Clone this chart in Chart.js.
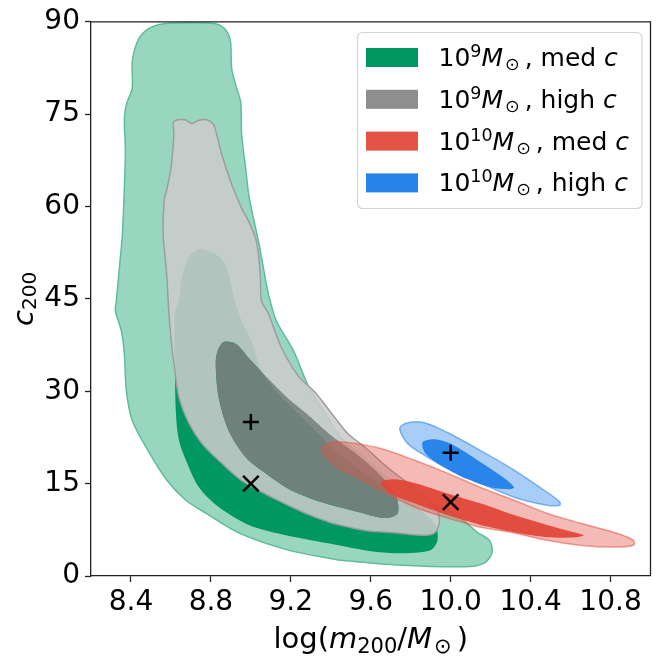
<!DOCTYPE html>
<html>
<head>
<meta charset="utf-8">
<script src="https://cdn.jsdelivr.net/npm/chart.js@4.4.1/dist/chart.umd.min.js"></script>
<style>
  html, body { margin: 0; padding: 0; background: #fff; }
  #wrap { width: 664px; height: 665px; }
</style>
</head>
<body>
<div id="wrap"><canvas id="c200-chart" width="664" height="665"></canvas></div>
<script>
// contour outlines, [log m200, c200]
var greenOuter = [[9.436,2.6],[9.188,4.2],[8.939,7.0],[8.775,10.2],[8.675,12.3],[8.581,15.5],[8.476,20.9],
  [8.406,25.3],[8.377,30.1],[8.367,36.1],[8.352,39.8],[8.322,43.1],[8.327,44.7],[8.342,50.0],[8.357,55.5],
  [8.367,63.0],[8.372,69.0],[8.367,74.3],[8.377,76.6],[8.406,79.2],[8.406,83.5],[8.425,86.2],[8.458,88.1],
  [8.524,89.4],[8.624,89.8],[8.823,89.7],[8.873,88.7],[8.898,86.8],[8.904,82.4],[8.929,79.2],[8.949,77.0],
  [8.954,71.7],[8.974,66.2],[8.989,62.0],[9.013,58.1],[9.038,54.4],[9.063,50.0],[9.088,45.8],[9.128,41.4],
  [9.213,36.6],[9.287,30.9],[9.372,26.4],[9.451,22.5],[9.521,20.4],[9.600,18.3],[9.700,15.5],[9.800,13.4],
  [9.899,11.8],[10.018,10.2],[10.133,7.1],[10.193,5.8],[10.208,3.9],[10.168,2.1],[10.069,1.5],[9.735,1.8]];
var greenInner = [[9.387,5.3],[9.153,6.8],[8.989,8.3],[8.839,11.2],[8.740,14.4],[8.675,18.8],[8.640,22.0],
  [8.625,26.4],[8.620,34.5],[8.620,42.6],[8.640,44.7],[8.649,47.4],[8.674,50.6],[8.705,52.4],[8.755,53.1],
  [8.814,52.4],[8.856,51.4],[8.889,49.0],[8.919,44.7],[8.954,41.4],[9.003,38.2],[9.053,33.3],[9.138,29.6],
  [9.237,26.4],[9.337,23.1],[9.436,19.9],[9.536,17.5],[9.635,15.2],[9.760,12.8],[9.859,10.4],[9.924,8.3],
  [9.934,5.8],[9.899,4.2],[9.735,3.7],[9.601,4.0]];
var grayOuter = [[9.402,8.6],[9.272,10.2],[9.103,12.8],[8.954,15.5],[8.854,18.3],[8.755,21.5],[8.690,24.8],
  [8.640,29.0],[8.615,34.5],[8.605,37.1],[8.590,42.6],[8.581,47.9],[8.576,50.0],[8.561,55.5],[8.566,60.9],
  [8.581,63.0],[8.600,66.2],[8.615,71.7],[8.615,73.8],[8.670,74.1],[8.705,73.5],[8.740,74.0],[8.780,74.1],
  [8.814,73.3],[8.829,71.7],[8.854,68.5],[8.904,63.6],[8.954,59.7],[8.989,57.6],[9.023,54.9],[9.038,52.3],
  [9.048,48.4],[9.053,44.7],[9.088,42.6],[9.153,37.1],[9.237,32.5],[9.322,29.8],[9.421,25.7],[9.486,23.1],
  [9.571,20.9],[9.685,17.6],[9.785,15.1],[9.869,12.8],[9.924,11.2],[9.944,9.1],[9.924,7.1],[9.869,6.6],
  [9.735,7.0],[9.571,7.4]];
var grayInner = [[9.371,11.8],[9.203,13.9],[9.073,16.7],[8.974,19.3],[8.889,23.6],[8.839,29.0],[8.824,34.5],
  [8.834,36.6],[8.864,38.0],[8.924,37.7],[8.989,35.4],[9.088,32.0],[9.188,28.8],[9.288,26.1],[9.402,22.8],
  [9.536,19.6],[9.660,16.0],[9.725,13.1],[9.735,10.2],[9.670,9.4],[9.536,10.4]];
var redOuter = [[10.148,7.9],[9.984,9.4],[9.819,11.2],[9.651,13.9],[9.536,16.0],[9.436,17.6],[9.371,19.6],
  [9.352,20.7],[9.402,21.7],[9.486,21.7],[9.651,20.7],[9.819,18.8],[9.984,16.7],[10.148,14.4],[10.317,12.3],
  [10.482,10.2],[10.646,8.6],[10.816,7.1],[10.915,5.8],[10.915,5.0],[10.816,4.7],[10.646,5.0],[10.482,5.8],
  [10.317,7.0]];
var redInner = [[10.148,8.3],[9.984,9.9],[9.819,11.8],[9.700,13.4],[9.651,15.2],[9.720,15.7],[9.819,15.1],
  [9.984,13.4],[10.148,11.8],[10.317,9.9],[10.482,8.3],[10.616,7.1],[10.666,6.6],[10.631,6.3],[10.482,6.3],
  [10.317,7.1]];
var blueOuter = [[10.148,15.1],[9.984,17.5],[9.869,19.6],[9.785,21.5],[9.745,24.0],[9.785,24.9],[9.869,24.9],
  [9.984,23.3],[10.148,20.4],[10.317,17.2],[10.482,13.6],[10.546,12.0],[10.546,11.5],[10.482,11.5],[10.317,12.8]];
var blueInner = [[10.068,15.9],[9.949,18.0],[9.874,19.9],[9.859,21.7],[9.919,22.2],[9.999,21.5],[10.148,18.5],
  [10.267,15.9],[10.317,14.4],[10.297,14.1],[10.198,14.4]];

// true parameters of the mock haloes
var plusPts = [[9.0, 25], [10.0, 20]];
var crossPts = [[9.0, 15], [10.0, 12]];

var xTicks = [8.4, 8.8, 9.2, 9.6, 10.0, 10.4, 10.8];
var yTicks = [0, 15, 30, 45, 60, 75, 90];

var legendExp = ['9', '9', '10', '10'];
var legendTail = ['med', 'high', 'med', 'high'];
var legendColors = ['#009862', '#8e8e8e', '#e45345', '#2683ea'];

var FONT = 'DejaVu Sans';
Chart.defaults.font.family = FONT;

function pts(arr) {
  return arr.map(function(p) { return {x: p[0], y: p[1]}; });
}
function closed(arr) {
  var p = pts(arr);
  p.push(p[0]);
  return p;
}
function area(arr) {
  var s = 0;
  for (var i = 0; i < arr.length; i++) {
    var a = arr[i], b = arr[(i + 1) % arr.length];
    s += a[0] * b[1] - b[0] * a[1];
  }
  return s;
}
// outer loop with the inner one cut out (opposite winding)
function ring(outer, inner) {
  var inn = inner.slice();
  if (area(outer) * area(inn) > 0) inn.reverse();
  var o = pts(outer), n = pts(inn);
  var out = o.concat([o[0], o[0], n[0], n[0]]);
  out = out.concat(n.slice(1), [n[0]]);
  return out;
}

function contour(data, bg, border, bw, order) {
  return {
    data: data, showLine: true, fill: 'shape', backgroundColor: bg,
    borderColor: border, borderWidth: bw, pointRadius: 0, tension: 0.3, order: order
  };
}

var datasets = [
  contour(closed(greenOuter), 'rgba(0,152,98,0.4)', 'rgb(92,190,152)', 1.5, 20),
  contour(closed(greenInner), '#009862', 'rgba(0,0,0,0)', 0, 19),
  contour(ring(grayOuter, grayInner), 'rgba(203,203,203,0.87)', 'rgba(0,0,0,0)', 0, 18),
  contour(closed(grayInner), 'rgba(126,126,126,0.87)', 'rgba(0,0,0,0)', 0, 17),
  {data: closed(grayOuter), showLine: true, fill: false, borderColor: 'rgba(155,155,155,0.95)', borderWidth: 1.5,
    pointRadius: 0, tension: 0.3, order: 16},
  contour(closed(redOuter), 'rgba(228,83,69,0.4)', 'rgba(228,83,69,0.55)', 1.5, 15),
  contour(closed(redInner), 'rgba(226,68,53,0.92)', 'rgba(0,0,0,0)', 0, 14),
  contour(closed(blueOuter), 'rgba(38,131,234,0.4)', 'rgba(38,131,234,0.55)', 1.5, 13),
  contour(closed(blueInner), 'rgba(38,131,234,0.97)', 'rgba(0,0,0,0)', 0, 12),
  {data: pts(plusPts), showLine: false, pointStyle: 'cross', pointRadius: 8, borderColor: '#000',
    borderWidth: 2.5, order: 2},
  {data: pts(crossPts), showLine: false, pointStyle: 'crossRot', pointRadius: 11, borderColor: '#000',
    borderWidth: 2.5, order: 1}
];

function drawRuns(ctx, runs, x, y) {
  runs.forEach(function(r) {
    ctx.font = r.f;
    ctx.fillText(r.t, x + (r.dx || 0), y + (r.dy || 0));
    x += ctx.measureText(r.t).width + (r.dx || 0) + (r.gap || 0);
  });
  return x;
}
function runsWidth(ctx, runs) {
  var w = 0;
  runs.forEach(function(r) {
    ctx.font = r.f;
    w += ctx.measureText(r.t).width + (r.dx || 0) + (r.gap || 0);
  });
  return w;
}

var decor = {
  id: 'decor',
  afterDraw: function(chart) {
    var ctx = chart.ctx, a = chart.chartArea;
    ctx.save();
    // top and right spines
    ctx.strokeStyle = '#222';
    ctx.lineWidth = 1.3;
    ctx.beginPath();
    ctx.moveTo(a.left, a.top); ctx.lineTo(a.right, a.top); ctx.lineTo(a.right, a.bottom);
    ctx.stroke();

    // legend
    var bx = 357.5, by = 32.5, bw = 284.5, bh = 176;
    ctx.fillStyle = 'rgba(255,255,255,0.85)';
    ctx.strokeStyle = '#d4d4d4';
    ctx.lineWidth = 1.2;
    ctx.beginPath();
    ctx.roundRect(bx, by, bw, bh, 5);
    ctx.fill(); ctx.stroke();
    ctx.textBaseline = 'alphabetic';
    ctx.textAlign = 'left';
    for (var i = 0; i < 4; i++) {
      var base = 66 + i * 41.8;
      ctx.fillStyle = legendColors[i];
      ctx.fillRect(366, base - 18, 52, 19);
      ctx.fillStyle = '#000';
      drawRuns(ctx, [
        {t: '10', f: '25px ' + FONT},
        {t: legendExp[i], f: '17.5px ' + FONT, dy: -9},
        {t: 'M', f: 'italic 25px ' + FONT, gap: 2},
        {t: '\u2299', f: '17.5px ' + FONT, dy: 4, gap: 5},
        {t: ', ' + legendTail[i] + ' ', f: '25px ' + FONT},
        {t: 'c', f: 'italic 25px ' + FONT}
      ], 438.5, base);
    }

    // axis titles
    var xr = [
      {t: 'log(', f: '29px ' + FONT},
      {t: 'm', f: 'italic 29px ' + FONT},
      {t: '200', f: '21px ' + FONT, dy: 5},
      {t: '/', f: '29px ' + FONT},
      {t: 'M', f: 'italic 29px ' + FONT, gap: 2},
      {t: '\u2299', f: '21px ' + FONT, dy: 5, gap: 5},
      {t: ')', f: '29px ' + FONT}
    ];
    var cx = (a.left + a.right) / 2;
    drawRuns(ctx, xr, cx - runsWidth(ctx, xr) / 2, 648);

    var yr = [
      {t: 'c', f: 'italic 29px ' + FONT},
      {t: '200', f: '20px ' + FONT, dy: 3}
    ];
    ctx.translate(33, (a.top + a.bottom) / 2);
    ctx.rotate(-Math.PI / 2);
    drawRuns(ctx, yr, -runsWidth(ctx, yr) / 2, 0);
    ctx.restore();
  }
};

var axisCommon = {
  grid: {drawOnChartArea: false, drawTicks: true, tickLength: 6, tickWidth: 1.3, tickColor: '#222'},
  border: {display: true, color: '#222', width: 1.3}
};

new Chart(document.getElementById('c200-chart'), {
  type: 'scatter',
  data: {datasets: datasets},
  options: {
    responsive: false,
    animation: false,
    events: [],
    layout: {padding: {left: 0, right: 10, top: 20, bottom: 0}},
    plugins: {legend: {display: false}, tooltip: {enabled: false}},
    scales: {
      x: Object.assign({}, axisCommon, {
        type: 'linear', min: 8.2, max: 11.0,
        afterBuildTicks: function(s) { s.ticks = xTicks.map(function(v) { return {value: v}; }); },
        afterFit: function(s) { s.height = 89; },
        ticks: {autoSkip: false, maxRotation: 0, padding: 4, color: '#000', font: {size: 28},
          callback: function(v) { return Number(v).toFixed(1); }}
      }),
      y: Object.assign({}, axisCommon, {
        type: 'linear', min: 0, max: 90,
        afterBuildTicks: function(s) { s.ticks = yTicks.map(function(v) { return {value: v}; }); },
        afterFit: function(s) { s.width = 91; },
        ticks: {autoSkip: false, padding: 5, color: '#000', font: {size: 28},
          callback: function(v) { return String(v); }}
      })
    }
  },
  plugins: [decor]
});
</script>
</body>
</html>
